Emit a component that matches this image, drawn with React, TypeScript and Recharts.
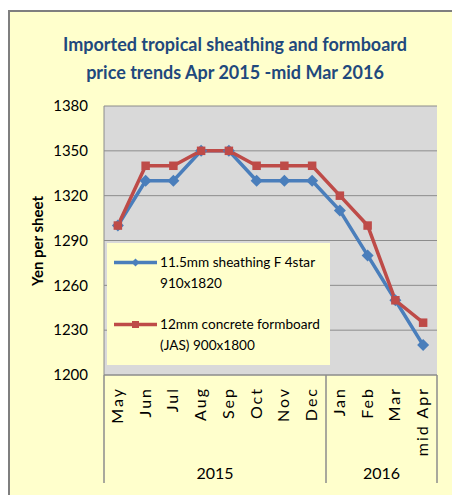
import React from "react";
import { ComposedChart, Line, XAxis, YAxis, CartesianGrid, Legend } from "recharts";

const months = ["May", "Jun", "Jul", "Aug", "Sep", "Oct", "Nov", "Dec", "Jan", "Feb", "Mar", "mid Apr"];
const sheathing = [1300, 1330, 1330, 1350, 1350, 1330, 1330, 1330, 1310, 1280, 1250, 1220];
const formboard = [1300, 1340, 1340, 1350, 1350, 1340, 1340, 1340, 1320, 1300, 1250, 1235];
const yTicks = [1200, 1230, 1260, 1290, 1320, 1350, 1380];
const yearLabels = ["2015", "2016"];
const yearBounds = [0, 8, 12];
const sheathingName = ["11.5mm sheathing F 4star", "910x1820"];
const formboardName = ["12mm concrete formboard", "(JAS) 900x1800"];

const data = months.map((m, i) => ({ month: m, sheathing: sheathing[i], formboard: formboard[i] }));

const BLUE = "#4A7EBB";
const RED = "#BE4B48";
const GRID = "#8C8C8C";
const BG = "#FFFFCC";
const FONT = "Lato, 'Liberation Sans', sans-serif";

function Diamond({ cx, cy }: any) {
  if (cx == null || cy == null) return <g />;
  const r = 6;
  return <polygon points={`${cx},${cy - r} ${cx + r},${cy} ${cx},${cy + r} ${cx - r},${cy}`} fill={BLUE} />;
}

function Square({ cx, cy }: any) {
  if (cx == null || cy == null) return <g />;
  const s = 8.5;
  return <rect x={cx - s / 2} y={cy - s / 2} width={s} height={s} fill={RED} />;
}

// month label plus the year grouping row underneath
function MonthTick({ x, y, payload, index }: any) {
  const half = payload.offset ?? 0;
  const tx = x + 5;
  const ty = y + 12;
  const g = yearBounds.findIndex((b, k) => index >= b && index < yearBounds[k + 1]);
  const start = yearBounds[g];
  const end = yearBounds[g + 1];
  return (
    <g>
      <text
        x={tx}
        y={ty}
        transform={`rotate(-90, ${tx}, ${ty})`}
        textAnchor="end"
        fontSize={16}
        letterSpacing={2}
        fontFamily={FONT}
        fill="#000"
      >
        {payload.value}
      </text>
      {index === start && <line x1={x - half} x2={x - half} y1={y} y2={y + 108} stroke={GRID} strokeWidth={1.5} />}
      {index === months.length - 1 && <line x1={x + half} x2={x + half} y1={y} y2={y + 108} stroke={GRID} strokeWidth={1.5} />}
      {index === start && (
        <text x={x + half * (end - start - 1)} y={y + 104} textAnchor="middle" fontSize={16} fontFamily={FONT} fill="#000">
          {yearLabels[g]}
        </text>
      )}
    </g>
  );
}

function LegendBox() {
  const items = [
    { color: BLUE, lines: sheathingName, diamond: true },
    { color: RED, lines: formboardName, diamond: false },
  ];
  return (
    <div style={{ width: 223, height: 122, background: BG, boxSizing: "border-box", paddingTop: 8.5, paddingLeft: 7, fontFamily: FONT, fontSize: 13.6, color: "#000" }}>
      {items.map((it, i) => (
        <div key={i} style={{ display: "flex", alignItems: "flex-start", marginBottom: 20 }}>
          <svg width={43} height={21} style={{ flex: "none" }}>
            <line x1={0} x2={43} y1={10.5} y2={10.5} stroke={it.color} strokeWidth={3.5} />
            {it.diamond ? (
              <polygon points="21.5,6.5 25.5,10.5 21.5,14.5 17.5,10.5" fill={it.color} />
            ) : (
              <rect x={18} y={7} width={7} height={7} fill={it.color} />
            )}
          </svg>
          <div style={{ marginLeft: 3, lineHeight: "21px", whiteSpace: "nowrap" }}>
            {it.lines[0]}
            <br />
            {it.lines[1]}
          </div>
        </div>
      ))}
    </div>
  );
}

export default function App() {
  return (
    <div
      style={{
        position: "relative",
        width: 452,
        height: 487,
        top: 2,
        background: BG,
        boxSizing: "border-box",
        borderLeft: "2px solid #7F7F7F",
        borderTop: "2px solid #7F7F7F",
        fontFamily: FONT,
      }}
    >
      <div style={{ position: "absolute", left: -2, top: -2 }}>
        <ComposedChart width={452} height={487} data={data} margin={{ top: 96, right: 23, bottom: 10, left: 0 }}>
          <CartesianGrid vertical={false} fill="#D9D9D9" stroke={GRID} strokeWidth={1} />
          <XAxis
            dataKey="month"
            scale="band"
            height={112}
            interval={0}
            tickLine={false}
            tickSize={0}
            tickMargin={0}
            axisLine={{ stroke: GRID }}
            tick={<MonthTick />}
          />
          <YAxis
            width={96}
            domain={[1200, 1380]}
            ticks={yTicks}
            interval={0}
            tickLine={false}
            tickSize={0}
            tickMargin={16}
            axisLine={{ stroke: GRID }}
            tick={{ fontSize: 15, fill: "#000", fontFamily: FONT }}
          />
          <Line
            dataKey="sheathing"
            name={sheathingName.join(" ")}
            stroke={BLUE}
            strokeWidth={3.5}
            dot={<Diamond />}
            activeDot={false}
            isAnimationActive={false}
          />
          <Line
            dataKey="formboard"
            name={formboardName.join(" ")}
            stroke={RED}
            strokeWidth={3.5}
            dot={<Square />}
            activeDot={false}
            isAnimationActive={false}
          />
          <Legend
            layout="vertical"
            align="center"
            verticalAlign="middle"
            content={<LegendBox />}
            wrapperStyle={{ left: 99, top: 233, width: 223, height: 122 }}
          />
        </ComposedChart>
      </div>
      <div
        style={{
          position: "absolute",
          left: 0,
          top: 18,
          width: 450,
          textAlign: "center",
          color: "#1F497D",
          fontWeight: 700,
          fontSize: 18,
          lineHeight: "28px",
        }}
      >
        Imported tropical sheathing and formboard
        <br />
        price trends Apr 2015 -mid Mar 2016
      </div>
      <div
        style={{
          position: "absolute",
          left: 27,
          top: 229,
          transform: "translate(-50%, -50%) rotate(-90deg)",
          whiteSpace: "nowrap",
          fontWeight: 700,
          fontSize: 15,
          color: "#000",
        }}
      >
        Yen per sheet
      </div>
    </div>
  );
}
